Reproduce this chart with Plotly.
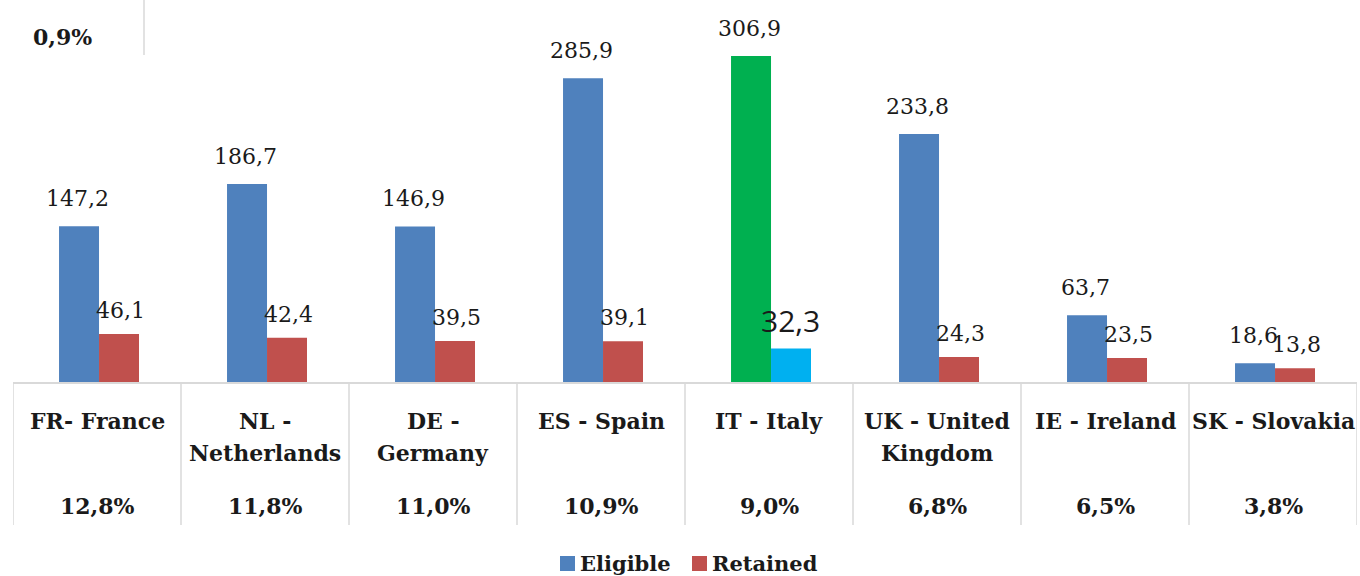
import plotly.graph_objects as go

categories = ["FR- France", "NL -<br>Netherlands", "DE -<br>Germany", "ES - Spain",
              "IT - Italy", "UK - United<br>Kingdom", "IE - Ireland", "SK - Slovakia"]
shares = ["12,8%", "11,8%", "11,0%", "10,9%", "9,0%", "6,8%", "6,5%", "3,8%"]
eligible = [147.2, 186.7, 146.9, 285.9, 306.9, 233.8, 63.7, 18.6]
retained = [46.1, 42.4, 39.5, 39.1, 32.3, 24.3, 23.5, 13.8]
eligible_colors = ["#4F81BD"] * 4 + ["#00B050"] + ["#4F81BD"] * 3
retained_colors = ["#C0504D"] * 4 + ["#00B0F0"] + ["#C0504D"] * 3
series_names = ["Eligible", "Retained"]
series_colors = ["#4F81BD", "#C0504D"]


def fmt(v):
    return f"{v:.1f}".replace(".", ",")


x = list(range(len(categories)))
W, H = 1360, 576
L, R, T, B = 13, 3, 0, 193
plot_w = W - L - R
plot_h = H - T - B
ymax = plot_h / 1.0655
BARGAP = 0.524
half = (1 - BARGAP) / 4  # offset of each bar centre from category centre

TXT = "#1a1a1a"
SERIF = "DejaVu Serif"


def px_x(px):
    return (px - L) / plot_w


def px_y(py):
    return (plot_h + T - py) / plot_h


fig = go.Figure()
fig.add_trace(go.Bar(x=x, y=eligible, name="Eligible", offset=-2 * half + 0.012,
                     marker=dict(color=eligible_colors, line=dict(width=0)), showlegend=False))
fig.add_trace(go.Bar(x=x, y=retained, name="Retained", offset=0.012,
                     marker=dict(color=retained_colors, line=dict(width=0)), showlegend=False))
fig.update_traces(width=2 * half)

# value labels
for i in x:
    fig.add_annotation(x=i - half, y=eligible[i], xref="x", yref="y", text=fmt(eligible[i]),
                       showarrow=False, yanchor="bottom", yshift=13, xanchor="center",
                       font=dict(family=SERIF, size=22, color=TXT))
    if i == 4:
        fig.add_annotation(x=i + half, y=retained[i], xref="x", yref="y", text=fmt(retained[i]),
                           showarrow=False, yanchor="bottom", yshift=6, xshift=2, xanchor="center",
                           font=dict(family="Open Sans", size=30, color=TXT))
    else:
        fig.add_annotation(x=i + half, y=retained[i], xref="x", yref="y", text=fmt(retained[i]),
                           showarrow=False, yanchor="bottom", yshift=9, xshift=4, xanchor="center",
                           font=dict(family=SERIF, size=22, color=TXT))

# data-table style category axis
for i, (c, s) in enumerate(zip(categories, shares)):
    for k, line in enumerate(c.split("<br>")):
        fig.add_annotation(x=i, y=px_y(421 + 32 * k), xref="x", yref="paper", text=f"<b>{line}</b>",
                           showarrow=False, yanchor="middle", xanchor="center",
                           font=dict(family=SERIF, size=22, color=TXT))
    fig.add_annotation(x=i, y=px_y(506), xref="x", yref="paper", text=f"<b>{s}</b>",
                       showarrow=False, yanchor="middle", xanchor="center",
                       font=dict(family=SERIF, size=22, color=TXT))

fig.add_shape(type="line", xref="x", yref="paper", x0=-0.5, x1=7.5, y0=0, y1=0,
              line=dict(color="#d9d9d9", width=2))
for i in range(9):
    fig.add_shape(type="line", xref="x", yref="paper", x0=i - 0.5, x1=i - 0.5,
                  y0=0, y1=px_y(525), line=dict(color="#d9d9d9", width=1.5))

# cropped remnant at top-left
fig.add_shape(type="line", xref="paper", yref="paper", x0=px_x(144), x1=px_x(144),
              y0=px_y(0), y1=px_y(55), line=dict(color="#d9d9d9", width=1.5))
fig.add_annotation(xref="paper", yref="paper", x=px_x(62), y=px_y(37), text="<b>0,9%</b>",
                   showarrow=False, yanchor="middle", xanchor="center",
                   font=dict(family=SERIF, size=22, color=TXT))

# legend
leg = [(560, 578), (692, 710)]
for (sx, tx), name, col in zip(leg, series_names, series_colors):
    fig.add_shape(type="rect", xref="paper", yref="paper", x0=px_x(sx), x1=px_x(sx + 15),
                  y0=px_y(556), y1=px_y(571), fillcolor=col, line=dict(width=0))
    fig.add_annotation(xref="paper", yref="paper", x=px_x(tx), y=px_y(563), text=f"<b>{name}</b>",
                       showarrow=False, xanchor="left", yanchor="middle",
                       font=dict(family=SERIF, size=21, color=TXT))

fig.update_layout(
    width=W, height=H, margin=dict(l=L, r=R, t=T, b=B),
    paper_bgcolor="white", plot_bgcolor="white",
    barmode="group", bargap=BARGAP, bargroupgap=0,
    showlegend=False,
    xaxis=dict(range=[-0.5, 7.5], showticklabels=False, showgrid=False, zeroline=False, showline=False),
    yaxis=dict(range=[0, ymax], visible=False, showgrid=False),
)
fig.write_html("out.html", config={"displayModeBar": False},
               post_script="document.body.style.margin='0px';")
